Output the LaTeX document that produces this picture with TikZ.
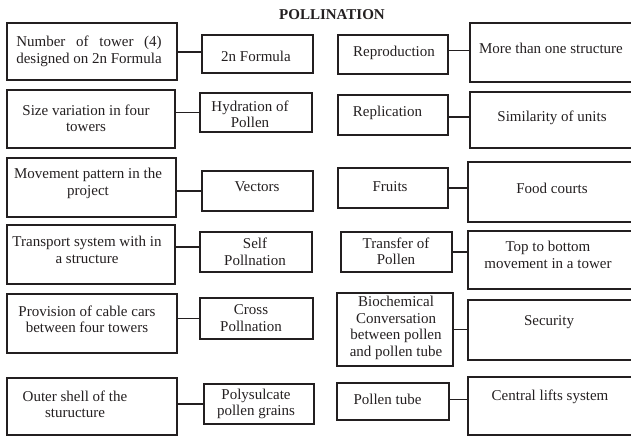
\documentclass[tikz,border=0pt]{standalone}
\usepackage{fontspec}
\usepackage{calc}
\setmainfont{Liberation Serif}
\definecolor{ink}{HTML}{231F20}
\begin{document}
\begin{tikzpicture}[x=1pt,y=-1pt,
  box/.style={draw=ink, line width=2.6pt, rectangle, inner sep=0pt},
  con/.style={draw=ink, line width=1.8pt},
  txt/.style={text=ink, font=\fontsize{15}{16.5}\selectfont, align=center, inner sep=0pt},
  ttl/.style={text=ink, font=\fontsize{15}{16.5}\selectfont\bfseries, inner sep=0pt}]
\clip (0,0) rectangle (631,436);
% title
\node[ttl] (title) at (332,15) {POLLINATION};
% left column
\node[box, minimum width=170pt, minimum height=57pt] (L1) at (92,51.5) {};
\node[box, minimum width=168pt, minimum height=58pt] (L2) at (91,119) {};
\node[box, minimum width=169pt, minimum height=59pt] (L3) at (91.5,187.5) {};
\node[box, minimum width=168pt, minimum height=59pt] (L4) at (91,254.5) {};
\node[box, minimum width=170pt, minimum height=59pt] (L5) at (92,323.5) {};
\node[box, minimum width=170pt, minimum height=57pt] (L6) at (92,406.5) {};
% second column
\node[box, minimum width=111pt, minimum height=38pt] (S1) at (257.5,54) {};
\node[box, minimum width=112pt, minimum height=39pt] (S2) at (256,112.5) {};
\node[box, minimum width=111pt, minimum height=40pt] (S3) at (257.5,191) {};
\node[box, minimum width=112pt, minimum height=40pt] (S4) at (256,252) {};
\node[box, minimum width=113pt, minimum height=41pt] (S5) at (256.5,318.5) {};
\node[box, minimum width=110pt, minimum height=40pt] (S6) at (259,404) {};
% third column
\node[box, minimum width=110pt, minimum height=39pt] (R1) at (393,54.5) {};
\node[box, minimum width=110pt, minimum height=40pt] (R2) at (393,115) {};
\node[box, minimum width=110pt, minimum height=40pt] (R3) at (393,188) {};
\node[box, minimum width=111pt, minimum height=40pt] (R4) at (396.5,252) {};
\node[box, minimum width=116pt, minimum height=73pt] (R5) at (395,329.5) {};
\node[box, minimum width=112pt, minimum height=37pt] (R6) at (393,401.5) {};
% fourth column (cut at right edge)
\node[box, minimum width=170pt, minimum height=59pt] (RR1) at (555,52.5) {};
\node[box, minimum width=170pt, minimum height=56pt] (RR2) at (555,120) {};
\node[box, minimum width=172pt, minimum height=60pt] (RR3) at (554,192) {};
\node[box, minimum width=172pt, minimum height=58pt] (RR4) at (554,260) {};
\node[box, minimum width=172pt, minimum height=60pt] (RR5) at (554,330) {};
\node[box, minimum width=172pt, minimum height=58pt] (RR6) at (554,406) {};
% texts
\node[txt] (tL1) at (89,51.5) {\makebox[\widthof{designed on 2n Formula}][s]{Number of tower (4)}\\designed on 2n Formula};
\node[txt] (tL2) at (86,118.5) {Size variation in four\\towers};
\node[txt] (tL3) at (88,183.5) {Movement pattern in the\\project};
\node[txt] (tL4) at (87,250) {Transport system with in\\a structure};
\node[txt] (tL5) at (87,319.5) {Provision of cable cars\\between four towers};
\node[txt] (tL6) at (75,404.5) {Outer shell of the\\sturucture};
\node[txt] (tS1) at (256,56) {2n Formula};
\node[txt] (tS2) at (250,114.5) {Hydration of\\Pollen};
\node[txt] (tS3) at (257,187) {Vectors};
\node[txt] (tS4) at (255,252) {Self\\Pollnation};
\node[txt] (tS5) at (251,318) {Cross\\Pollnation};
\node[txt] (tS6) at (256,404) {Polysulcate\\pollen grains};
\node[txt] (tR1) at (394,53) {Reproduction};
\node[txt] (tR2) at (387.5,113) {Replication};
\node[txt] (tR3) at (390,187) {Fruits};
\node[txt] (tR4) at (396,251.5) {Transfer of\\Pollen};
\node[txt] (tR5) at (396,328) {Biochemical\\Conversation\\between pollen\\and pollen tube};
\node[txt] (tR6) at (387.5,399) {Pollen tube};
\node[txt] (tRR1) at (551,48) {More than one structure};
\node[txt] (tRR2) at (552,118) {Similarity of units};
\node[txt] (tRR3) at (552,188) {Food courts};
\node[txt] (tRR4) at (548,255) {Top to bottom\\movement in a tower};
\node[txt] (tRR5) at (549,322) {Security};
\node[txt] (tRR6) at (550,397) {Central lifts system};
% connectors
\draw[con] ([yshift=2pt]S1.west -| L1.east) -- ([yshift=2pt]S1.west);
\draw[con] (S2.west -| L2.east) -- (S2.west);
\draw[con] (S3.west -| L3.east) -- (S3.west);
\draw[con] ([yshift=5pt]S4.west -| L4.east) -- ([yshift=5pt]S4.west);
\draw[con] (S5.west -| L5.east) -- (S5.west);
\draw[con] (S6.west -| L6.east) -- (S6.west);
\draw[con] ([yshift=4pt]R1.east) -- ([yshift=4pt]R1.east -| RR1.west);
\draw[con] ([yshift=-2pt]R2.east) -- ([yshift=-2pt]R2.east -| RR2.west);
\draw[con] (R3.east) -- (R3.east -| RR3.west);
\draw[con] (R4.east) -- (R4.east -| RR4.west);
\draw[con] (R5.east) -- (R5.east -| RR5.west);
\draw[con] ([yshift=2pt]R6.east) -- ([yshift=2pt]R6.east -| RR6.west);
\end{tikzpicture}
\end{document}
